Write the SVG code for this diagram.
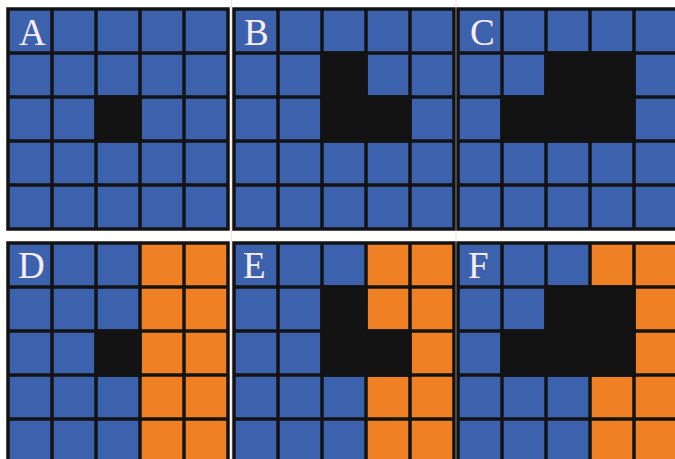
<svg xmlns="http://www.w3.org/2000/svg" xmlns:xlink="http://www.w3.org/1999/xlink" width="675" height="459" viewBox="0 0 675 459">
  <style>
    .blue { fill: #3d62ad; }
    .orange { fill: #f08024; }
    .dark { fill: #131313; stroke: #131313; stroke-width: 3.5; }
    .grid { fill: none; stroke: #131313; stroke-width: 3.5; }
    .lbl { font-family: "Liberation Serif", "Times New Roman", serif; font-size: 37px; fill: #f8ecf5; }
    .gap { stroke: #f5e2db; stroke-width: 1; }
  </style>
  <defs>
    <path id="gridlines" class="grid" d="M0,0 H220 V220 H0 Z M44,0 V220 M88,0 V220 M132,0 V220 M176,0 V220 M0,44 H220 M0,88 H220 M0,132 H220 M0,176 H220"/>
  </defs>
  <rect x="0" y="0" width="675" height="459" fill="#ffffff"/>
  <line class="gap" x1="231.5" y1="0" x2="231.5" y2="459"/>
  <line class="gap" x1="456" y1="0" x2="456" y2="459"/>

  <g id="panelA" transform="translate(8,9)">
    <rect class="blue" x="0" y="0" width="220" height="220"/>
    <use xlink:href="#gridlines"/>
    <rect class="dark" x="88" y="88" width="44" height="44"/>
    <text class="lbl" x="11" y="36">A</text>
  </g>

  <g id="panelB" transform="translate(234,9)">
    <rect class="blue" x="0" y="0" width="220" height="220"/>
    <use xlink:href="#gridlines"/>
    <path class="dark" d="M88,44 H132 V88 H176 V132 H88 Z"/>
    <text class="lbl" x="10" y="36">B</text>
  </g>

  <g id="panelC" transform="translate(458,9)">
    <rect class="blue" x="0" y="0" width="220" height="220"/>
    <use xlink:href="#gridlines"/>
    <path class="dark" d="M88,44 H176 V132 H44 V88 H88 Z"/>
    <text class="lbl" x="12" y="36">C</text>
  </g>

  <g id="panelD" transform="translate(8,243)">
    <rect class="blue" x="0" y="0" width="220" height="220"/>
    <rect class="orange" x="132" y="0" width="88" height="220"/>
    <use xlink:href="#gridlines"/>
    <rect class="dark" x="88" y="88" width="44" height="44"/>
    <text class="lbl" x="10" y="35">D</text>
  </g>

  <g id="panelE" transform="translate(234,243)">
    <rect class="blue" x="0" y="0" width="220" height="220"/>
    <rect class="orange" x="132" y="0" width="88" height="220"/>
    <use xlink:href="#gridlines"/>
    <path class="dark" d="M88,44 H132 V88 H176 V132 H88 Z"/>
    <text class="lbl" x="9" y="35">E</text>
  </g>

  <g id="panelF" transform="translate(458,243)">
    <rect class="blue" x="0" y="0" width="220" height="220"/>
    <rect class="orange" x="132" y="0" width="88" height="220"/>
    <use xlink:href="#gridlines"/>
    <path class="dark" d="M88,44 H176 V132 H44 V88 H88 Z"/>
    <text class="lbl" x="10" y="35">F</text>
  </g>
</svg>
